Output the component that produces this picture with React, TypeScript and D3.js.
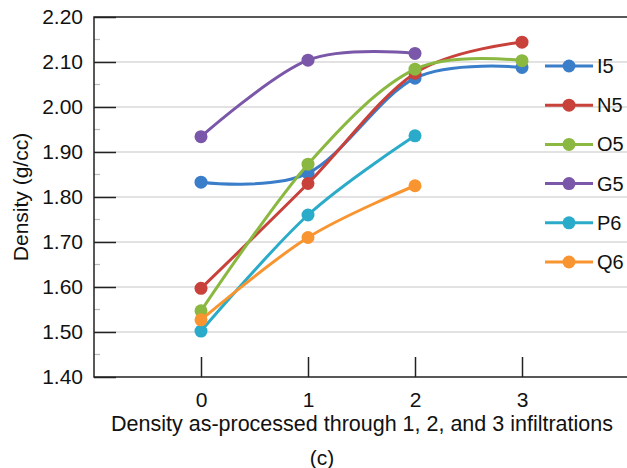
import * as d3 from "d3";
import { useEffect, useRef } from "react";

const categories = [0, 1, 2, 3];
const seriesNames = ["I5", "N5", "O5", "G5", "P6", "Q6"];
const i5 = [1.833, 1.853, 2.064, 2.088];
const n5 = [1.597, 1.83, 2.075, 2.144];
const o5 = [1.547, 1.873, 2.084, 2.103];
const g5 = [1.934, 2.104, 2.119];
const p6 = [1.502, 1.76, 1.936];
const q6 = [1.527, 1.71, 1.825];
const yTicks = [1.4, 1.5, 1.6, 1.7, 1.8, 1.9, 2.0, 2.1, 2.2];
const yMinorTicks = [1.45, 1.55, 1.65, 1.75, 1.85, 1.95, 2.05, 2.15];
const colors = ["#3a7dc9", "#c8413a", "#8ab840", "#7a57a8", "#2aabc9", "#f99530"];

const FONT = "'Liberation Sans', Arial, sans-serif";

const App = () => {
    const svgRef = useRef<SVGSVGElement>(null);

    useEffect(() => {
        const svg = d3.select(svgRef.current);
        const width = 627;
        const height = 468;
        const margin = { top: 17, right: -2, bottom: 91, left: 94 };

        svg.selectAll("*").remove();

        const x = d3.scaleLinear().domain([-1, 4]).range([margin.left, width - margin.right]);
        const y = d3.scaleLinear().domain([1.4, 2.2]).range([height - margin.bottom, margin.top]);

        // gridlines
        svg.append("g")
            .selectAll("line")
            .data(yTicks.slice(1, -1))
            .join("line")
            .attr("x1", margin.left)
            .attr("x2", width)
            .attr("y1", d => y(d))
            .attr("y2", d => y(d))
            .attr("stroke", "#d9d9d9")
            .attr("stroke-width", 1.5);

        // minor ticks
        svg.append("g")
            .selectAll("line")
            .data(yMinorTicks)
            .join("line")
            .attr("x1", margin.left)
            .attr("x2", margin.left + 6)
            .attr("y1", d => y(d))
            .attr("y2", d => y(d))
            .attr("stroke", "#bbb")
            .attr("stroke-width", 1.2);

        const yAxis = svg.append("g")
            .attr("transform", `translate(${margin.left},0)`)
            .call(d3.axisLeft(y).tickValues(yTicks).tickFormat(d3.format(".2f")).tickSize(-22).tickPadding(11));
        yAxis.select(".domain").remove();
        yAxis.selectAll(".tick line").attr("stroke", "#222").attr("stroke-width", 1.5);
        yAxis.selectAll(".tick text")
            .attr("font-family", FONT)
            .attr("font-size", 21)
            .attr("fill", "#111");

        const xAxis = svg.append("g")
            .attr("transform", `translate(0,${y(1.4)})`)
            .call(d3.axisBottom(x).tickValues(categories).tickFormat(d3.format("d")).tickSize(-20).tickPadding(15));
        xAxis.select(".domain").remove();
        xAxis.selectAll(".tick line").attr("stroke", "#222").attr("stroke-width", 1.5);
        xAxis.selectAll(".tick text")
            .attr("font-family", FONT)
            .attr("font-size", 21)
            .attr("fill", "#111");

        // frame: left, top, bottom
        svg.append("path")
            .attr("d", `M${width},${y(2.2)}H${margin.left}V${y(1.4)}H${width}`)
            .attr("fill", "none")
            .attr("stroke", "#222")
            .attr("stroke-width", 1.5);

        const line = d3.line<number>()
            .x((_, i) => x(categories[i]))
            .y(d => y(d))
            .curve(d3.curveCardinal.tension(0));

        const allSeries = [i5, n5, o5, g5, p6, q6];
        allSeries.forEach((vals, k) => {
            const g = svg.append("g");
            g.append("path")
                .datum(vals)
                .attr("fill", "none")
                .attr("stroke", colors[k])
                .attr("stroke-width", 3)
                .attr("d", line);
            g.selectAll("circle")
                .data(vals)
                .join("circle")
                .attr("cx", (_, i) => x(categories[i]))
                .attr("cy", d => y(d))
                .attr("r", 6.5)
                .attr("fill", colors[k]);
        });

        // legend
        const legend = svg.append("g");
        seriesNames.forEach((name, k) => {
            const ly = 66 + k * 39.2;
            legend.append("line")
                .attr("x1", 545)
                .attr("x2", 593)
                .attr("y1", ly)
                .attr("y2", ly)
                .attr("stroke", colors[k])
                .attr("stroke-width", 3);
            legend.append("circle")
                .attr("cx", 569)
                .attr("cy", ly)
                .attr("r", 6.5)
                .attr("fill", colors[k]);
            legend.append("text")
                .attr("x", 597)
                .attr("y", ly)
                .attr("dy", "0.35em")
                .attr("font-family", FONT)
                .attr("font-size", 20)
                .attr("fill", "#111")
                .text(name);
        });

        svg.append("text")
            .attr("transform", `translate(28,${(y(1.4) + y(2.2)) / 2}) rotate(-90)`)
            .attr("text-anchor", "middle")
            .attr("font-family", FONT)
            .attr("font-size", 21)
            .attr("fill", "#111")
            .text("Density (g/cc)");

        svg.append("text")
            .attr("x", 362)
            .attr("y", 431)
            .attr("text-anchor", "middle")
            .attr("font-family", FONT)
            .attr("font-size", 21.5)
            .attr("fill", "#111")
            .text("Density as-processed through 1, 2, and 3 infiltrations");

        svg.append("text")
            .attr("x", 322)
            .attr("y", 465)
            .attr("text-anchor", "middle")
            .attr("font-family", FONT)
            .attr("font-size", 21)
            .attr("fill", "#111")
            .text("(c)");
    }, []);

    return (
        <svg
            ref={svgRef}
            width={627}
            height={468}
            style={{ position: "absolute", left: 0, top: 0, background: "#fff" }}
        />
    );
};

export default App;
